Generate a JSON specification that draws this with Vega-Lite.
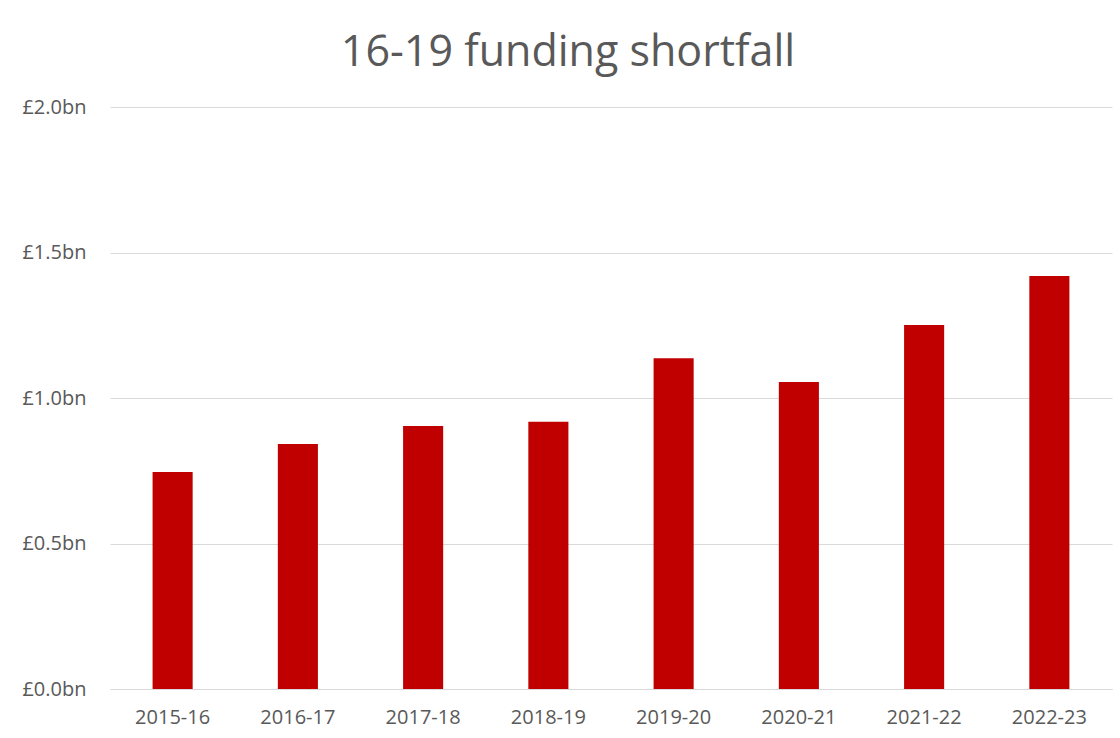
{
  "$schema": "https://vega.github.io/schema/vega-lite/v6.json",
  "autosize": "none",
  "width": 1002,
  "height": 582,
  "padding": {"left": 110, "top": 107, "right": 8, "bottom": 49},
  "background": "white",
  "title": {
    "text": "16-19 funding shortfall",
    "fontSize": 43,
    "font": "Open Sans",
    "fontWeight": "normal",
    "color": "#595959",
    "anchor": "middle",
    "frame": "group",
    "dx": -43,
    "offset": 22
  },
  "data": {
    "values": [
      {"year": "2015-16", "value": 0.746},
      {"year": "2016-17", "value": 0.842},
      {"year": "2017-18", "value": 0.904},
      {"year": "2018-19", "value": 0.918},
      {"year": "2019-20", "value": 1.137},
      {"year": "2020-21", "value": 1.055},
      {"year": "2021-22", "value": 1.251},
      {"year": "2022-23", "value": 1.419}
    ]
  },
  "mark": {"type": "bar", "color": "#c00000"},
  "encoding": {
    "x": {
      "field": "year",
      "type": "nominal",
      "sort": null,
      "title": null,
      "scale": {"paddingInner": 0.68, "paddingOuter": 0.34},
      "axis": {
        "labelAngle": 0,
        "labelFont": "Open Sans",
        "labelFontSize": 20,
        "labelColor": "#595959",
        "labelPadding": 18,
        "ticks": false,
        "domainColor": "#d9d9d9",
        "grid": false
      }
    },
    "y": {
      "field": "value",
      "type": "quantitative",
      "title": null,
      "scale": {"domain": [0, 2]},
      "axis": {
        "values": [0, 0.5, 1, 1.5, 2],
        "labelExpr": "'£' + format(datum.value, '.1f') + 'bn'",
        "labelFont": "Open Sans",
        "labelFontSize": 20,
        "labelColor": "#595959",
        "labelPadding": 24,
        "ticks": false,
        "domain": false,
        "gridColor": "#d9d9d9",
        "gridWidth": 1
      }
    }
  },
  "config": {"view": {"stroke": null}}
}
